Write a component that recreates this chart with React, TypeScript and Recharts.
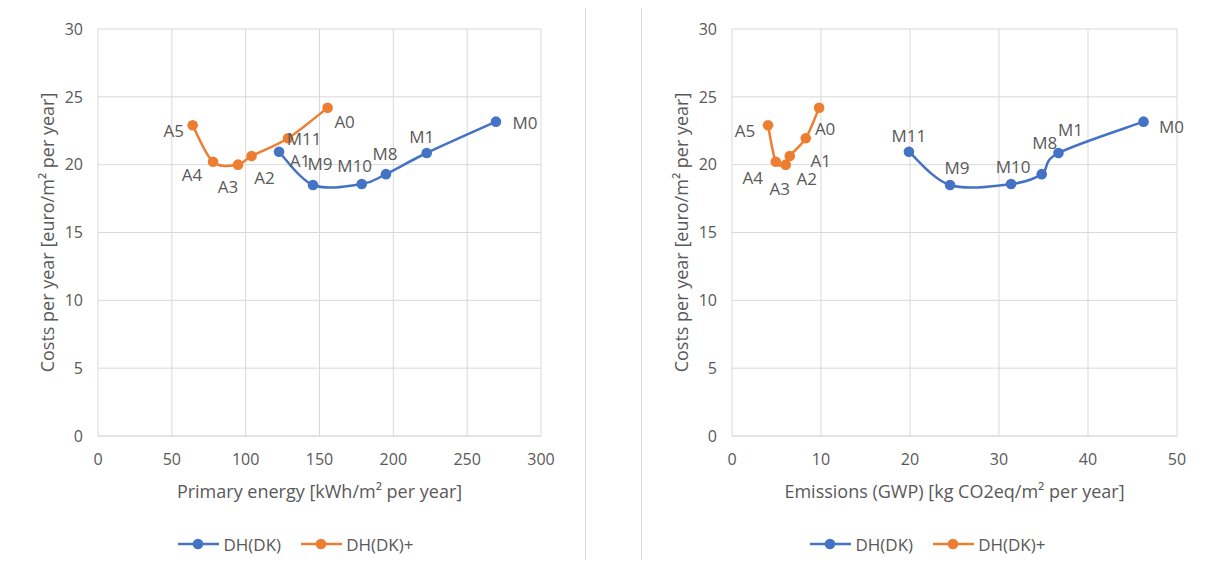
import React from 'react';
import { LineChart, Line, XAxis, YAxis, CartesianGrid, LabelList, Label } from 'recharts';

// measure names and costs (shared by both panels)
const mNames = ['M11', 'M9', 'M10', 'M8', 'M1', 'M0'];
const mCosts = [20.95, 18.5, 18.57, 19.3, 20.86, 23.17];
const mPrimary = [122.6, 145.6, 178.6, 195, 222.6, 269.5];
const mEmissions = [19.88, 24.5, 31.36, 34.8, 36.68, 46.24];

const aNames = ['A5', 'A4', 'A3', 'A2', 'A1', 'A0'];
const aCosts = [22.9, 20.22, 20.0, 20.64, 21.95, 24.2];
const aPrimary = [64.1, 77.9, 94.8, 104, 128.7, 155.5];
const aEmissions = [4.05, 4.92, 6.04, 6.49, 8.29, 9.79];

const seriesNames = ['DH(DK)', 'DH(DK)+'];
const yTicks = [0, 5, 10, 15, 20, 25, 30];
const primaryTicks = [0, 50, 100, 150, 200, 250, 300];
const emissionTicks = [0, 10, 20, 30, 40, 50];

const BLUE = '#4472C4';
const ORANGE = '#ED7D31';
const TEXT = '#595959';
const GRID = '#d9d9d9';
const FONT = "'Open Sans', sans-serif";

// label offsets (px) from marker centre, picked by hand to match the original
const leftOffsets: Record<string, [number, number]> = {
  A5: [-19, 5], A4: [-21, 13], A3: [-10, 22], A2: [13, 22], A1: [12, 22], A0: [17, 14],
  M11: [25, -13], M9: [7, -22], M10: [-7, -19], M8: [-1, -21], M1: [-5, -16], M0: [29, 1],
};
const rightOffsets: Record<string, [number, number]> = {
  A5: [-23, 5], A4: [-23, 16], A3: [-6, 24], A2: [17, 23], A1: [15, 22], A0: [6, 21],
  M11: [0, -16], M9: [7, -18], M10: [2, -18], M8: [3, -32], M1: [12, -23], M0: [28, 5],
};

const zip = (names: string[], xs: number[], ys: number[]) =>
  names.map((name, i) => ({ name, x: xs[i], y: ys[i] }));

// excel style smoothed line (catmull-rom through the points)
const excelSmooth = (context: any) => {
  let pts: number[][] = [];
  return {
    areaStart() {},
    areaEnd() {},
    lineStart() {
      pts = [];
    },
    point(x: number, y: number) {
      pts.push([x, y]);
    },
    lineEnd() {
      if (!pts.length) return;
      context.moveTo(pts[0][0], pts[0][1]);
      for (let i = 0; i < pts.length - 1; i++) {
        const p0 = pts[Math.max(i - 1, 0)];
        const p1 = pts[i];
        const p2 = pts[i + 1];
        const p3 = pts[Math.min(i + 2, pts.length - 1)];
        context.bezierCurveTo(
          p1[0] + (p2[0] - p0[0]) / 6, p1[1] + (p2[1] - p0[1]) / 6,
          p2[0] - (p3[0] - p1[0]) / 6, p2[1] - (p3[1] - p1[1]) / 6,
          p2[0], p2[1]
        );
      }
    },
  };
};

const pointLabel = (offsets: Record<string, [number, number]>) => (props: any) => {
  const { x, y, value } = props;
  const [dx, dy] = offsets[value] || [0, 0];
  return (
    <text x={x + dx} y={y + dy} textAnchor="middle" dominantBaseline="central" fill={TEXT} fontSize={17} fontFamily={FONT}>
      {value}
    </text>
  );
};

const xTitle = (text: string) => (props: any) => {
  const { x, y, width } = props.viewBox;
  return (
    <text x={x + width / 2} y={y + 55} textAnchor="middle" dominantBaseline="central" fill={TEXT} fontSize={18} fontFamily={FONT}>
      {text}
    </text>
  );
};

const yTitle = (text: string, cx: number) => (props: any) => {
  const { y, height } = props.viewBox;
  const cy = y + height / 2;
  return (
    <text x={cx} y={cy} transform={`rotate(-90, ${cx}, ${cy})`} textAnchor="middle" dominantBaseline="central" fill={TEXT} fontSize={18} fontFamily={FONT}>
      {text}
    </text>
  );
};

function LegendIcon({ color }: { color: string }) {
  return (
    <svg width={41} height={12} style={{ marginRight: 4 }}>
      <line x1={0} y1={6} x2={41} y2={6} stroke={color} strokeWidth={2.5} />
      <circle cx={20} cy={6} r={5.3} fill={color} />
    </svg>
  );
}

function Legend({ left, width }: { left: number; width: number }) {
  const colors = [BLUE, ORANGE];
  return (
    <div style={{ position: 'absolute', left, top: 532, width, height: 24, display: 'flex', justifyContent: 'center', alignItems: 'center', gap: 20, fontFamily: FONT, fontSize: 17, color: TEXT }}>
      {seriesNames.map((n, i) => (
        <div key={n} style={{ display: 'flex', alignItems: 'center' }}>
          <LegendIcon color={colors[i]} />
          <span>{n}</span>
        </div>
      ))}
    </div>
  );
}

interface PanelProps {
  mData: { name: string; x: number; y: number }[];
  aData: { name: string; x: number; y: number }[];
  xMax: number;
  xTicks: number[];
  xLabel: string;
  offsets: Record<string, [number, number]>;
  marginLeft: number;
  width: number;
}

function Panel({ mData, aData, xMax, xTicks, xLabel, offsets, marginLeft, width }: PanelProps) {
  return (
    <LineChart width={width} height={568} margin={{ top: 29, right: 29, left: marginLeft, bottom: 72 }}>
      <CartesianGrid stroke={GRID} strokeWidth={1} />
      <XAxis
        type="number"
        dataKey="x"
        domain={[0, xMax]}
        ticks={xTicks}
        allowDataOverflow
        height={60}
        tickSize={0}
        tickMargin={18}
        axisLine={{ stroke: GRID }}
        tickLine={false}
        tick={{ fill: TEXT, fontSize: 16, fontFamily: FONT }}
      >
        <Label content={xTitle(xLabel)} />
      </XAxis>
      <YAxis
        type="number"
        dataKey="y"
        domain={[0, 30]}
        ticks={yTicks}
        width={60}
        tickSize={0}
        tickMargin={15}
        axisLine={false}
        tickLine={false}
        tick={{ fill: TEXT, fontSize: 16, fontFamily: FONT }}
      >
        <Label content={yTitle('Costs per year [euro/m\u00b2 per year]', marginLeft + 9)} />
      </YAxis>
      <Line
        data={mData}
        dataKey="y"
        name={seriesNames[0]}
        type={excelSmooth as any}
        stroke={BLUE}
        strokeWidth={2.5}
        dot={{ r: 5.3, fill: BLUE, stroke: BLUE, strokeWidth: 0 }}
        activeDot={false}
        isAnimationActive={false}
      >
        <LabelList dataKey="name" content={pointLabel(offsets)} />
      </Line>
      <Line
        data={aData}
        dataKey="y"
        name={seriesNames[1]}
        type={excelSmooth as any}
        stroke={ORANGE}
        strokeWidth={2.5}
        dot={{ r: 5.3, fill: ORANGE, stroke: ORANGE, strokeWidth: 0 }}
        activeDot={false}
        isAnimationActive={false}
      >
        <LabelList dataKey="name" content={pointLabel(offsets)} />
      </Line>
    </LineChart>
  );
}

export default function App() {
  return (
    <div style={{ position: 'relative', width: 1206, height: 568, margin: -8, overflow: 'hidden', background: '#fff', fontFamily: FONT }}>
      <div style={{ position: 'absolute', left: 7, top: 6, width: 577, height: 600, border: `1px solid ${GRID}` }} />
      <div style={{ position: 'absolute', left: 641, top: 6, width: 600, height: 600, border: `1px solid ${GRID}` }} />
      <div style={{ position: 'absolute', left: 0, top: 0 }}>
        <Panel
          mData={zip(mNames, mPrimary, mCosts)}
          aData={zip(aNames, aPrimary, aCosts)}
          xMax={300}
          xTicks={primaryTicks}
          xLabel={'Primary energy [kWh/m\u00b2 per year]'}
          offsets={leftOffsets}
          marginLeft={38}
          width={570}
        />
      </div>
      <div style={{ position: 'absolute', left: 603, top: 0 }}>
        <Panel
          mData={zip(mNames, mEmissions, mCosts)}
          aData={zip(aNames, aEmissions, aCosts)}
          xMax={50}
          xTicks={emissionTicks}
          xLabel={'Emissions (GWP) [kg CO2eq/m\u00b2 per year]'}
          offsets={rightOffsets}
          marginLeft={69}
          width={603}
        />
      </div>
      <Legend left={7} width={578} />
      <Legend left={642} width={572} />
    </div>
  );
}
